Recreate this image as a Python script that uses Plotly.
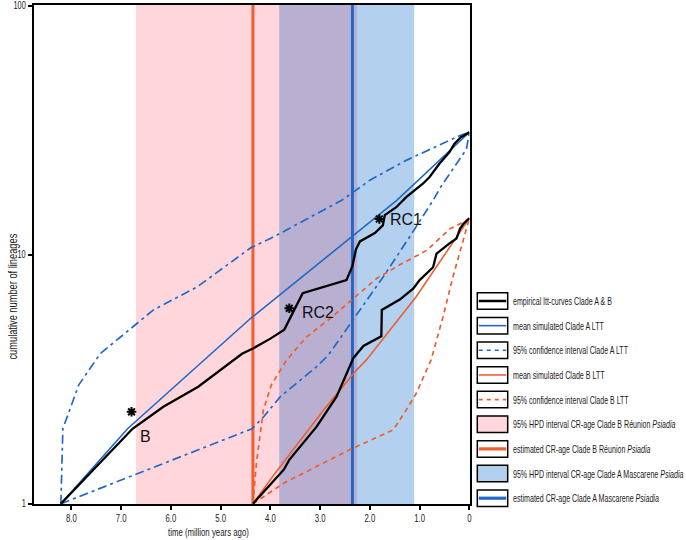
import json
import math
import plotly.graph_objects as go

# ---------------- data (time in million years ago, N = cumulative lineages) -------------
emp_A_t = [8.21, 6.77, 6.15, 5.45, 4.57, 4.35, 4.0, 3.72, 3.35, 2.47, 2.35, 2.28, 2.2, 1.9, 1.74, 1.7,
           1.47, 1.33, 1.27, 0.93, 0.8, 0.6, 0.5, 0.4, 0.3, 0.17, 0.0]
emp_A_n = [1, 2, 2.45, 2.95, 4, 4.2, 4.6, 5, 7, 7.9, 9.0, 10.5, 11.3, 12.2, 13.1, 14.4,
           15.5, 16.5, 17, 19.3, 20.5, 23.2, 24.5, 25.8, 27.9, 29.6, 31]

mean_A_t = [8.21, 6.87, 4.4, 1.46, 0.0]
mean_A_n = [1, 2.0, 5.54, 16.5, 31]

ciup_A_t = [8.21, 8.17, 7.85, 7.42, 6.35, 5.48, 4.38, 4.0, 2.55, 2.0, 1.27, 0.2, 0.0]
ciup_A_n = [1, 2, 3, 4, 6, 7.4, 10.7, 11.6, 16.6, 19.9, 23.9, 30, 31]

cilo_A_t = [8.21, 6.7, 4.37, 4.13, 3.8, 3.07, 2.83, 2.2, 1.73, 1.2, 0.73, 0.59, 0.06, 0.0]
cilo_A_n = [1, 1.31, 2.0, 2.24, 2.69, 3.55, 3.96, 6.0, 8.15, 11.8, 16.5, 18.5, 26.5, 31]

emp_B_t = [4.35, 3.73, 3.62, 3.07, 2.67, 2.33, 2.13, 1.77, 1.76, 1.4, 1.13, 1.0, 0.73, 0.66,
           0.4, 0.26, 0.19, 0.12, 0.0]
emp_B_n = [1, 1.37, 1.5, 2.04, 2.69, 3.85, 4.3, 4.7, 6.0, 6.6, 7.3, 7.9, 8.9, 10.1,
           11.1, 11.6, 12.7, 13.3, 14]

mean_B_t = [4.35, 3.9, 2.93, 2.27, 2.07, 1.07, 0.0]
mean_B_n = [1, 1.33, 2.38, 3.44, 3.78, 6.78, 14]

ciup_B_t = [4.35, 4.28, 4.14, 3.98, 3.67, 3.27, 2.8, 1.87, 1.4, 0.86, 0.39, 0.12, 0.0]
ciup_B_n = [1, 1.46, 2.38, 3.0, 3.78, 4.68, 5.54, 8.0, 9.1, 10.4, 12.7, 13.5, 14]

cilo_B_t = [4.35, 3.73, 2.4, 1.53, 1.27, 1.07, 0.77, 0.53, 0.33, 0.13, 0.0]
cilo_B_n = [1, 1.21, 1.65, 1.98, 2.38, 2.77, 3.78, 5.63, 8.15, 11.4, 14]

# HPD intervals and estimated crown ages
hpd_B = [6.70, 2.255]
hpd_A = [3.82, 1.11]
cr_B = 4.35
cr_A = 2.35

# node markers
node_labels = ["B", "RC2", "RC1"]
node_t = [6.79, 3.62, 1.81]
node_n = [2.34, 6.09, 13.9]

x_tickvals = [8, 7, 6, 5, 4, 3, 2, 1, 0]
x_ticktext = ["8.0", "7.0", "6.0", "5.0", "4.0", "3.0", "2.0", "1.0", "0"]
y_tickvals = [1, 10, 100]
y_ticktext = ["1", "10", "100"]

legend_labels = [
    "empirical ltt-curves Clade A & B",
    "mean simulated Clade A LTT",
    "95% confidence interval Clade A LTT",
    "mean simulated Clade B LTT",
    "95% confidence interval Clade B LTT",
    "95% HPD interval CR-age Clade B Réunion <i>Psiadia</i>",
    "estimated CR-age Clade B Réunion <i>Psiadia</i>",
    "95% HPD interval CR-age Clade A Mascarene <i>Psiadia</i>",
    "estimated CR-age Clade A Mascarene <i>Psiadia</i>",
]
x_title = "time (million years ago)"
y_title = "cumulative number of lineages"

# ---------------- styling ----------------
W, H = 686, 540
FONT = "Liberation Sans, Arial, sans-serif"
BLUE = "#2069C8"
ORANGE = "#EE5F30"
PINK = "#FFD6DC"
LBLUE = "#B3D0EE"
PURPLE = "#B9AFD1"
DASH_A = "9px,4px,3px,4px"
DASH_B = "5px,4px"
# rendered (condensed) widths of texts, px
legend_text_w = [99, 91, 115, 91.7, 115.7, 162.7, 137.7, 170.7, 146]
x_title_w = 81
y_title_w = 126
tick_squeeze = 0.74


def px(x):
    return x / W


def py(y):
    return 1 - y / H


fig = go.Figure()


def line(t, n, color, width, dash="solid"):
    fig.add_trace(go.Scatter(x=t, y=n, mode="lines", showlegend=False, hoverinfo="skip",
                             line=dict(color=color, width=width, dash=dash)))


line(ciup_A_t, ciup_A_n, BLUE, 1.7, DASH_A)
line(cilo_A_t, cilo_A_n, BLUE, 1.7, DASH_A)
line(ciup_B_t, ciup_B_n, ORANGE, 1.7, DASH_B)
line(cilo_B_t, cilo_B_n, ORANGE, 1.7, DASH_B)
line(mean_A_t, mean_A_n, BLUE, 1.6)
line(mean_B_t, mean_B_n, ORANGE, 1.6)
line(emp_A_t, emp_A_n, "black", 2.3)
line(emp_B_t, emp_B_n, "black", 2.3)

fig.add_trace(go.Scatter(x=node_t, y=node_n, mode="markers", showlegend=False, hoverinfo="skip",
                         marker=dict(symbol="asterisk-open", size=8, color="black",
                                     line=dict(color="black", width=2))))
fig.add_trace(go.Scatter(x=node_t, y=node_n, mode="markers", showlegend=False, hoverinfo="skip",
                         marker=dict(symbol="circle", size=5, color="black")))

shapes = []
# HPD bands
shapes.append(dict(type="rect", xref="x", yref="y domain", x0=hpd_B[0], x1=hpd_B[1], y0=0, y1=1,
                   fillcolor=PINK, line=dict(width=0), layer="below"))
shapes.append(dict(type="rect", xref="x", yref="y domain", x0=hpd_A[0], x1=hpd_A[1], y0=0, y1=1,
                   fillcolor=LBLUE, line=dict(width=0), layer="below"))
ov0, ov1 = min(hpd_B[0], hpd_A[0]), max(hpd_B[1], hpd_A[1])
shapes.append(dict(type="rect", xref="x", yref="y domain", x0=ov0, x1=ov1, y0=0, y1=1,
                   fillcolor=PURPLE, line=dict(width=0), layer="below"))
shapes.append(dict(type="line", xref="x", yref="y domain", x0=cr_B, x1=cr_B, y0=0, y1=1,
                   line=dict(color=ORANGE, width=3), layer="below"))
shapes.append(dict(type="line", xref="x", yref="y domain", x0=cr_A, x1=cr_A, y0=0, y1=1,
                   line=dict(color=BLUE, width=3), layer="below"))

annotations = []
squeeze = {}
# node labels
lab_off = [0.13, 0.21, 0.18]
lab_dy = [-0.10, -0.015, 0.0]
for lab, t, n, o, d in zip(node_labels, node_t, node_n, lab_off, lab_dy):
    annotations.append(dict(x=t - o, y=math.log10(n) + d, xref="x", yref="y", text=lab,
                            showarrow=False, xanchor="left", yanchor="middle",
                            font=dict(family=FONT, size=16, color="#111")))

# custom legend
bx0, bx1, bh = 477.3, 507.7, 16.5
ys = [301 + i * 24.65 for i in range(len(legend_labels))]
kinds = [("line", "black", 2.5, "solid"), ("line", BLUE, 1.6, "solid"), ("line", BLUE, 1.6, "4px,4px"),
         ("line", ORANGE, 1.6, "solid"), ("line", ORANGE, 1.6, "4px,4px"), ("fill", PINK, 0, ""),
         ("line", ORANGE, 3.2, "solid"), ("fill", LBLUE, 0, ""), ("line", BLUE, 3.2, "solid")]
for yc, (kind, col, w, dash), lab, tw in zip(ys, kinds, legend_labels, legend_text_w):
    fillc = col if kind == "fill" else "white"
    shapes.append(dict(type="rect", xref="paper", yref="paper", x0=px(bx0), x1=px(bx1),
                       y0=py(yc + bh / 2), y1=py(yc - bh / 2), fillcolor=fillc,
                       line=dict(color="black", width=1.5)))
    if kind == "line":
        shapes.append(dict(type="line", xref="paper", yref="paper", x0=px(bx0 + 1.5), x1=px(bx1 - 1.5),
                           y0=py(yc), y1=py(yc), line=dict(color=col, width=w, dash=dash)))
    squeeze[len(annotations)] = tw
    annotations.append(dict(x=px(510.5), y=py(yc), xref="paper", yref="paper", text=lab,
                            showarrow=False, xanchor="left", yanchor="middle", align="left",
                            font=dict(family=FONT, size=10.5, color="#1a1a1a")))

# axis titles
squeeze[len(annotations)] = x_title_w
annotations.append(dict(x=px(208.5), y=py(532), xref="paper", yref="paper",
                        text=x_title, showarrow=False,
                        xanchor="center", yanchor="middle", font=dict(family=FONT, size=11.5, color="#1a1a1a")))
squeeze[len(annotations)] = y_title_w
annotations.append(dict(x=px(13), y=py(297), xref="paper", yref="paper",
                        text=y_title, showarrow=False, textangle=-90,
                        xanchor="center", yanchor="middle", font=dict(family=FONT, size=12, color="#1a1a1a")))

fig.update_layout(
    width=W, height=H,
    margin=dict(l=0, r=0, t=0, b=0),
    paper_bgcolor="white", plot_bgcolor="white",
    shapes=shapes, annotations=annotations,
    xaxis=dict(domain=[px(33.5), px(469.5)], range=[8.76, -0.002], tickvals=x_tickvals, ticktext=x_ticktext,
               ticks="outside", ticklen=4, tickwidth=1.5, tickcolor="black",
               showline=True, linecolor="black", linewidth=1.5, mirror=True,
               showgrid=False, zeroline=False, automargin=False,
               tickfont=dict(family=FONT, size=10.5, color="#222")),
    yaxis=dict(domain=[py(504), py(5)], type="log", range=[-0.001, 2.002], tickvals=y_tickvals,
               ticktext=y_ticktext,
               ticks="outside", ticklen=4, tickwidth=1.5, tickcolor="black",
               showline=True, linecolor="black", linewidth=1.5, mirror=True,
               showgrid=False, zeroline=False, automargin=False,
               tickfont=dict(family=FONT, size=10, color="#222")),
    showlegend=False,
)

# condense the texts horizontally (the original uses a narrow typeface)
js = """
document.body.style.margin='0px';
(function(){
  var gd = document.getElementById('{plot_id}');
  var targets = TARGETS;
  var tf = TICKF;
  function squeezeText(t, f){
    var orig = t.getAttribute('transform') || '';
    var ax = parseFloat(t.getAttribute('x')) || 0;
    t.setAttribute('transform', orig + ' translate(' + ax + ',0) scale(' + f + ',1) translate(' + (-ax) + ',0)');
  }
  gd.querySelectorAll('g.annotation').forEach(function(g){
    var i = g.getAttribute('data-index');
    if (targets[i] === undefined) return;
    var t = g.querySelector('text.annotation-text');
    if (!t) return;
    var w = t.getComputedTextLength();
    if (w > 0) squeezeText(t, targets[i] / w);
  });
  gd.querySelectorAll('g.xtick text, g.ytick text').forEach(function(t){
    squeezeText(t, tf);
  });
})();
""".replace("TARGETS", json.dumps({str(k): v for k, v in squeeze.items()})).replace("TICKF", str(tick_squeeze))

fig.write_html("out.html", post_script=js, config={"displayModeBar": False})
